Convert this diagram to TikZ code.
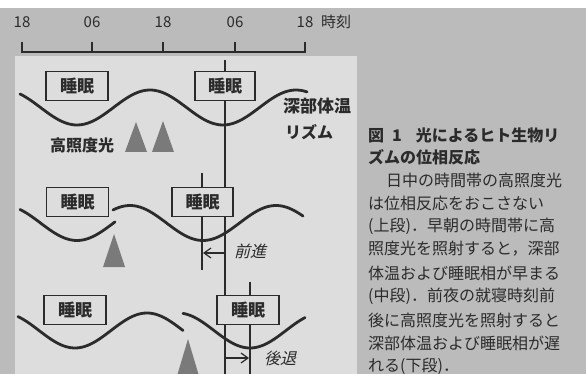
\documentclass[tikz,border=0pt]{standalone}
\usepackage{fontspec}
\setmainfont{Noto Sans CJK JP}
\usetikzlibrary{arrows.meta}
\XeTeXlinebreaklocale "ja"
\XeTeXlinebreakskip=0pt plus 30pt
\definecolor{bgout}{HTML}{BBBBBB}
\definecolor{bgpanel}{HTML}{DDDDDD}
\definecolor{ink}{HTML}{2B2B2B}
\definecolor{tri}{HTML}{7A7A7A}
\begin{document}
\begin{tikzpicture}[x=1pt,y=-1pt,
  sleepbox/.style={draw=ink, line width=1.8pt, fill=bgpanel, minimum width=62pt, minimum height=29pt, inner sep=0pt, font=\fontsize{17}{17}\selectfont\bfseries, text=ink},
  wave/.style={draw=ink, line width=2.8pt, line cap=round},
  vline/.style={draw=ink, line width=1.2pt},
  lab/.style={font=\fontsize{16}{16}\selectfont\bfseries, text=ink, inner sep=0pt},
  axlab/.style={font=\fontsize{15}{15}\selectfont, text=ink, inner sep=0pt},
  caplab/.style={font=\fontsize{16}{16}\selectfont, text=ink, inner sep=0pt, anchor=west},
  lightmark/.style={fill=tri},
  arr/.style={draw=ink, line width=1.2pt, -{Straight Barb[length=7pt,width=10pt]}},
  axis/.style={draw=ink, line width=1.8pt}
]
\useasboundingbox (0,0) rectangle (586,374);
% backgrounds
\fill[white] (0,0) rectangle (586,374);
\fill[bgout] (0,8) rectangle (586,374);
\fill[bgpanel] (15,56) rectangle (357,374);

% time axis
\foreach \i/\x/\t in {0/22/18,1/92/06,2/163/18,3/235/06,4/305/18}{
  \coordinate (tb\i) at (\x,52);
  \coordinate (tt\i) at (\x,42);
  \node[axlab] (al\i) at (\x,22) {\t};
}
\draw[axis] (tt0) -- (tb0) -- (tb4) -- (tt4);
\foreach \i in {1,2,3}{ \draw[axis] (tb\i) -- (tt\i); }
\node[axlab, anchor=west] (jikoku) at (321,22) {時刻};

% vertical reference lines
\coordinate (va) at (225,60);
\coordinate (vb) at (225,374);
\coordinate (ma) at (202,173);
\coordinate (mb) at (202,270);
\coordinate (ba) at (250,282);
\coordinate (bb) at (250,374);
\draw[vline] (va) -- (vb);
\draw[vline] (ma) -- (mb);
\draw[vline] (ba) -- (bb);

% waves
\draw[wave] plot[domain=20:307, samples=90, smooth] (\x, {107.5+17.5*cos((\x-77)/146*360)});
\draw[wave] plot[domain=20:115, samples=40, smooth] (\x, {223+17.5*cos((\x-77)/146*360)});
\draw[wave] plot[domain=113:303, samples=70, smooth] (\x, {223+17.5*cos((\x-203)/146*360)});
\draw[wave] plot[domain=18:183, samples=60, smooth] (\x, {330.5+17.5*cos((\x-75)/144*360)});
\draw[wave] plot[domain=183:305, samples=50, smooth] (\x, {330.5+17.5*cos((\x-250)/144*360)});

% light pulses
\fill[lightmark] (125,152) -- (136,122) -- (147,152) -- cycle;
\fill[lightmark] (152,152) -- (163,121) -- (174,152) -- cycle;
\fill[lightmark] (103,267) -- (114,234) -- (125,267) -- cycle;
\fill[lightmark] (177,376) -- (188,339) -- (199,376) -- cycle;

% sleep boxes
\node[sleepbox] (s1) at (77,86) {睡眠};
\node[sleepbox, minimum width=60pt] (s2) at (225,86) {睡眠};
\node[sleepbox] (s3) at (77.5,202) {睡眠};
\node[sleepbox, minimum width=61pt] (s4) at (202.5,202) {睡眠};
\node[sleepbox] (s5) at (75,310) {睡眠};
\node[sleepbox] (s6) at (248,310) {睡眠};

% labels
\node[lab] (koushodo) at (82,145) {高照度光};
\node[lab, anchor=west, font=\fontsize{17}{17}\selectfont\bfseries] (shinbu) at (283,106) {深部体温};
\node[lab, anchor=west] (rizumu) at (285,132) {リズム};

% shift arrows
\coordinate (fa) at (224,253);
\coordinate (fb) at (203,253);
\coordinate (ka) at (226,358);
\coordinate (kb) at (249,358);
\draw[arr] (fa) -- (fb);
\draw[arr] (ka) -- (kb);
\node[lab, font=\fontsize{16}{16}\selectfont\addfontfeature{FakeSlant=0.25}] (zenshin) at (250,251) {前進};
\node[lab, font=\fontsize{16}{16}\selectfont\addfontfeature{FakeSlant=0.25}] (koutai) at (280,358) {後退};

% caption
\node[caplab, font=\fontsize{16}{16}\selectfont\bfseries] (c1) at (368,135) {\makebox[210pt][s]{図\hspace{8pt}1\hspace{14pt}光によるヒト生物リ}};
\node[caplab, font=\fontsize{16}{16}\selectfont\bfseries] (c2) at (368,157) {\makebox[125pt][s]{ズムの位相反応}};
\node[caplab] (c3) at (368,180) {\makebox[210pt][s]{\hspace{18pt}日中の時間帯の高照度光}};
\node[caplab] (c4) at (368,203) {\makebox[210pt][s]{は位相反応をおこさない}};
\node[caplab] (c5) at (368,226) {\makebox[210pt][s]{(上段)．早朝の時間帯に高}};
\node[caplab] (c6) at (368,249) {\makebox[210pt][s]{照度光を照射すると，深部}};
\node[caplab] (c7) at (368,273) {\makebox[210pt][s]{体温および睡眠相が早まる}};
\node[caplab] (c8) at (368,296) {\makebox[210pt][s]{(中段)．前夜の就寝時刻前}};
\node[caplab] (c9) at (368,320) {\makebox[210pt][s]{後に高照度光を照射すると}};
\node[caplab] (c10) at (368,343) {\makebox[210pt][s]{深部体温および睡眠相が遅}};
\node[caplab] (c11) at (368,366) {\makebox[105pt][s]{れる(下段)．}};
\end{tikzpicture}
\end{document}
